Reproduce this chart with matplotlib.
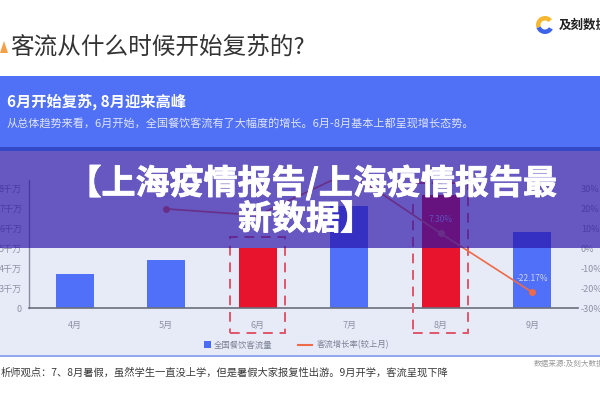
import matplotlib
matplotlib.use("Agg")
import matplotlib.pyplot as plt
from matplotlib.patches import Rectangle, Polygon, Wedge
from matplotlib.lines import Line2D
import matplotlib.transforms as mtransforms
import matplotlib.patheffects as pe

plt.rcParams['font.family'] = ['Noto Sans CJK SC', 'DejaVu Sans']

# ---- data ----
months = ['4月', '5月', '6月', '7月', '8月', '9月']
traffic = [3.7, 4.4, 5.0, 7.1, 7.65, 5.8]          # 千万 (axis drawn with a break below 3千万)
growth_months = ['5月', '6月', '7月', '8月', '9月']
growth = [19.55, 16.33, 38.0, 7.30, -22.17]          # %
growth_labels = {'5月': '19.55%', '6月': '16.33%', '8月': '7.30%', '9月': '-22.17%'}
highlight = ['6月', '8月']
left_ticks = [2, 3, 4, 5, 6, 7, 8]
left_ticklabels = ['0', '3千万', '4千万', '5千万', '6千万', '7千万', '8千万']
right_ticks = [-30, -20, -10, 0, 10, 20, 30]

W, H = 600, 400
fig = plt.figure(figsize=(6, 4), dpi=100)
fig.patch.set_facecolor('white')

def fx(x):
    return x / W

def fy(y):
    return 1 - y / H

def frect(x0, y0, x1, y1, **kw):
    r = Rectangle((fx(x0), fy(y1)), fx(x1) - fx(x0), fy(y0) - fy(y1),
                  transform=fig.transFigure, **kw)
    fig.add_artist(r)
    return r

# backgrounds
frect(0, 76, 600, 147, facecolor='#5070f5', edgecolor='none', zorder=-5)
frect(0, 147, 600, 151, facecolor='#3448c8', edgecolor='none', zorder=-5)
frect(0, 151, 600, 355, facecolor='#e7ebf8', edgecolor='none', zorder=-5)
frect(0, 355, 600, 357, facecolor='#93a6f0', edgecolor='none', zorder=-5)

# title
tri = Polygon([(fx(0), fy(53)), (fx(4), fy(41)), (fx(8), fy(53))], closed=True,
              transform=fig.transFigure, facecolor='#f5a04a', edgecolor='none')
fig.add_artist(tri)
fig.text(fx(10), fy(47), '客流从什么时候开始复苏的?', fontsize=17, color='#333333',
         va='center', ha='left')

# logo
t_in = fig.dpi_scale_trans
cx, cy, r = 5.45, (H - 25) / 100, 0.09
fig.add_artist(Wedge((cx, cy), r, 40, 200, width=0.045, transform=t_in,
                     facecolor='#f5b82e', edgecolor='none'))
fig.add_artist(Wedge((cx, cy), r, 200, 330, width=0.045, transform=t_in,
                     facecolor='#3d63e8', edgecolor='none'))
fig.text(fx(559), fy(25), '及刻数据', fontsize=9, fontweight='bold', color='#222222',
         va='center', ha='left')

# banner text
fig.text(fx(7), fy(102), '6月开始复苏, 8月迎来高峰', fontsize=11, fontweight='bold',
         color='white', va='center', ha='left')
fig.text(fx(7), fy(124), '从总体趋势来看，6月开始，全国餐饮客流有了大幅度的增长。6月-8月基本上都呈现增长态势。',
         fontsize=8, color='#dfe5ff', va='center', ha='left')

# ---- chart ----
ax_l, ax_r, ax_b, ax_t = 29, 578, 308, 180
ax = fig.add_axes([fx(ax_l), fy(ax_b), fx(ax_r) - fx(ax_l), fy(ax_t) - fy(ax_b)])
ax.set_facecolor('none')
x = list(range(len(months)))
colors = ['#e8142e' if m in highlight else '#5070fa' for m in months]
ax.bar(x, traffic, width=0.42, color=colors, zorder=2)
ax.set_xlim(-0.5, len(months) - 0.5)
ax.set_ylim(2, 8.4)
ax.set_yticks(left_ticks)
ax.set_yticklabels(left_ticklabels)
ax.set_xticks(x)
ax.set_xticklabels(months)
ax.tick_params(axis='both', length=0, labelsize=6.5, labelcolor='#8d92a3')
ax.tick_params(axis='x', pad=9)
ax.tick_params(axis='y', pad=5)
for s in ['top', 'right']:
    ax.spines[s].set_visible(False)
ax.spines['left'].set_color('#8a8f9e')
ax.spines['left'].set_linewidth(1.0)
ax.spines['bottom'].set_color('#6b6f7c')
ax.spines['bottom'].set_linewidth(1.2)

ax2 = ax.twinx()
gx = [months.index(m) for m in growth_months]
ax2.plot(gx, growth, color='#ef6a48', lw=1.2, marker='o', markersize=4, zorder=3)
ax2.set_ylim(-30, 34)
ax2.set_yticks(right_ticks)
ax2.set_yticklabels([f'{v}%' for v in right_ticks])
ax2.tick_params(axis='y', length=0, labelsize=6.5, labelcolor='#8d92a3', pad=2)
for s in ['top', 'right', 'left', 'bottom']:
    ax2.spines[s].set_visible(False)
for m, g in zip(growth_months, growth):
    if m in growth_labels:
        ax2.text(months.index(m), g + 4.5, growth_labels[m], ha='center', va='bottom',
                 fontsize=6, color='#cdd3ee', zorder=4)

# highlight dashed boxes (x in data, y in axes fraction)
trans = mtransforms.blended_transform_factory(ax.transData, ax.transAxes)
box_top = {'6月': (ax_b - 237) / (ax_b - ax_t), '8月': (ax_b - 183) / (ax_b - ax_t)}
box_bottom = (ax_b - 333) / (ax_b - ax_t)
for m in highlight:
    i = months.index(m)
    rect = Rectangle((i - 0.3, box_bottom), 0.6, box_top[m] - box_bottom, transform=trans,
                     fill=False, edgecolor='#e0566a', lw=1.4, ls=(0, (5, 3.5)),
                     clip_on=False, zorder=5)
    ax.add_patch(rect)

# legend
frect(204, 341, 211, 348, facecolor='#4a6cf5', edgecolor='none', zorder=6)
fig.text(fx(214), fy(345), '全国餐饮客流量', fontsize=6, color='#7d8294', va='center', ha='left')
fig.add_artist(Line2D([fx(298), fx(312)], [fy(345), fy(345)], transform=fig.transFigure,
                      color='#ef6a48', lw=1.5))
fig.text(fx(317), fy(345), '客流增长率(较上月)', fontsize=6, color='#7d8294', va='center', ha='left')

# footer
fig.text(fx(1), fy(372), '析师观点：7、8月暑假，虽然学生一直没上学，但是暑假大家报复性出游。9月开学，客流呈现下降',
         fontsize=7.4, color='#3a3a3a', va='center', ha='left')
fig.text(fx(534), fy(364), '数据来源:及刻大数据', fontsize=5.5, color='#9a9a9a', va='center', ha='left')

# overlay band with title
frect(0, 151, 600, 248, facecolor=(41/255, 18/255, 166/255), alpha=0.68, edgecolor='none', zorder=10)
stroke = [pe.withStroke(linewidth=0.6, foreground='white')]
fig.text(fx(312), fy(183), '【上海疫情报告/上海疫情报告最', fontsize=24.5, fontweight='bold',
         color='white', ha='center', va='center', zorder=11, path_effects=stroke)
fig.text(fx(306), fy(219), '新数据】', fontsize=24.5, fontweight='bold',
         color='white', ha='center', va='center', zorder=11, path_effects=stroke)

fig.savefig('out.png', dpi=100)
